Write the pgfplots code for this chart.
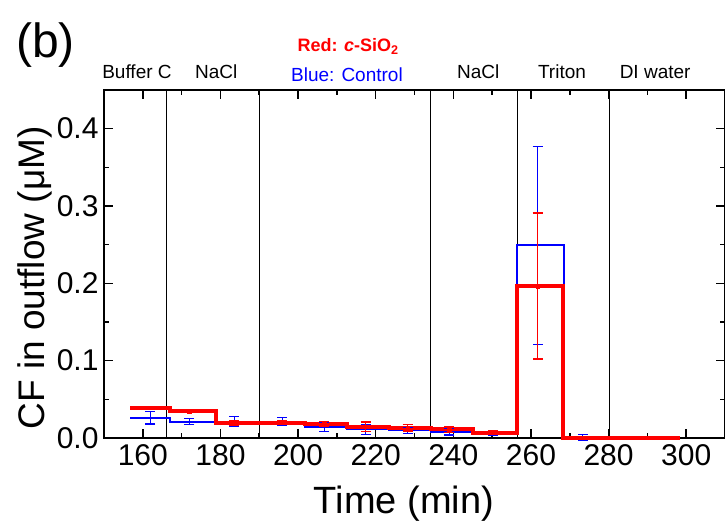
\documentclass[border=0pt]{standalone}
\usepackage{fontspec}
\setmainfont{Liberation Sans}
\usepackage{pgfplots}
\pgfplotsset{compat=1.18}
\usepackage{pgfplotstable}

\definecolor{cred}{RGB}{255,0,0}
\definecolor{cblue}{RGB}{0,0,255}

% error bar points: x, mean, error
\pgfplotstableread{
x      y       e
161.9  0.026   0.008
172.0  0.021   0.004
183.5  0.021   0.0065
195.9  0.021   0.005
206.7  0.014   0.006
217.4  0.011   0.006
228.2  0.010   0.004
239.0  0.008   0.004
250.2  0.006   0.003
261.7  0.249   0.128
273.4  0.001   0.004
}\blueerr
\pgfplotstableread{
x      y       e
161.9  0.039   0.001
172.0  0.035   0.001
183.5  0.0198  0.003
195.9  0.0198  0.002
206.7  0.018   0.003
217.4  0.0146  0.006
228.2  0.0133  0.004
239.0  0.011   0.004
250.2  0.0069  0.002
261.7  0.1965  0.0945
273.4  0.0005  0.001
}\rederr

\begin{document}
\begin{tikzpicture}
\begin{axis}[
  scale only axis, width=621pt, height=348pt,
  xmin=150, xmax=310, ymin=0, ymax=0.45,
  xtick={160,180,200,220,240,260,280,300}, minor x tick num=1,
  ytick={0,0.1,0.2,0.3,0.4}, minor y tick num=1,
  tick align=inside, major tick length=9pt, minor tick length=5pt,
  every tick/.style={line width=1.6pt, black},
  axis line style={line width=2.5pt},
  yticklabel style={xshift=-2pt, /pgf/number format/fixed,
    /pgf/number format/fixed zerofill, /pgf/number format/precision=1},
  /pgf/number format/assume math mode=true,
  tick label style={font=\fontsize{30}{32}\selectfont},
  xticklabel style={yshift=-3pt},
  xlabel={Time (min)}, ylabel={CF in outflow (μM)},
  every axis x label/.style={at={(rel axis cs:0.483,0)}, yshift=-66pt, anchor=center,
    font=\fontsize{38}{40}\selectfont},
  every axis y label/.style={at={(rel axis cs:-0.112,0.46)}, rotate=90, anchor=center,
    font=\fontsize{37}{39}\selectfont},
  clip=false,
]
\coordinate (O) at (rel axis cs:0,0);

% region separators
\draw[black, line width=0.9pt] (axis cs:166,0) -- (axis cs:166,0.45);
\draw[black, line width=0.9pt] (axis cs:190,0) -- (axis cs:190,0.45);
\draw[black, line width=0.9pt] (axis cs:234.2,0) -- (axis cs:234.2,0.45);
\draw[black, line width=0.9pt] (axis cs:256.4,0) -- (axis cs:256.4,0.45);
\draw[black, line width=0.9pt] (axis cs:280.2,0) -- (axis cs:280.2,0.45);

% blue: control
\addplot[const plot, cblue, line width=2pt, mark=none] coordinates {
  (156.7,0.026) (167,0.021) (201.8,0.0138) (212.5,0.011) (223.4,0.0103)
  (234.2,0.008) (245,0.0065) (256.5,0.249) (268.4,0.001) (280,0.001)};
% red: c-SiO2
\addplot[const plot, cred, line width=4pt, mark=none] coordinates {
  (156.7,0.039) (167,0.035) (178.8,0.0198) (201.8,0.018) (212.5,0.0146)
  (223.4,0.0133) (234.2,0.011) (245,0.0069) (256.4,0.1965) (268.3,0.0005)
  (298.4,0.0005)};

\addplot[cblue, only marks, mark=text, text mark={},
  error bars/.cd, y dir=both, y explicit,
  error bar style={line width=1pt},
  error mark options={rotate=90, mark size=5pt, line width=1.2pt}]
  table[x=x, y=y, y error=e] {\blueerr};
\addplot[cred, only marks, mark=square*, mark size=1.8pt,
  error bars/.cd, y dir=both, y explicit,
  error bar style={line width=1.4pt},
  error mark options={rotate=90, mark size=5pt, line width=1.4pt}]
  table[x=x, y=y, y error=e] {\rederr};

% region labels
\node[font=\fontsize{19}{20}\selectfont] at (axis cs:158.5,0.4735) {Buffer C};
\node[font=\fontsize{19}{20}\selectfont] at (axis cs:178.9,0.4735) {NaCl};
\node[font=\fontsize{19}{20}\selectfont] at (axis cs:246.4,0.4735) {NaCl};
\node[font=\fontsize{19}{20}\selectfont] at (axis cs:268,0.4735) {Triton};
\node[font=\fontsize{19}{20}\selectfont] at (axis cs:292,0.4735) {DI water};
\node[font=\fontsize{18}{20}\selectfont\bfseries, text=cred] at (axis cs:212.9,0.506) {Red: \textit{c}-SiO\textsubscript{2}};
\node[font=\fontsize{19}{20}\selectfont, text=cblue] at (axis cs:212.6,0.470) {Blue: Control};

\node[font=\fontsize{48}{50}\selectfont] at (rel axis cs:-0.094,1.13) {(b)};
\end{axis}
\pgfresetboundingbox
\useasboundingbox (O) ++(-104pt,-89pt) rectangle ++(725pt,527pt);
\end{tikzpicture}
\end{document}
